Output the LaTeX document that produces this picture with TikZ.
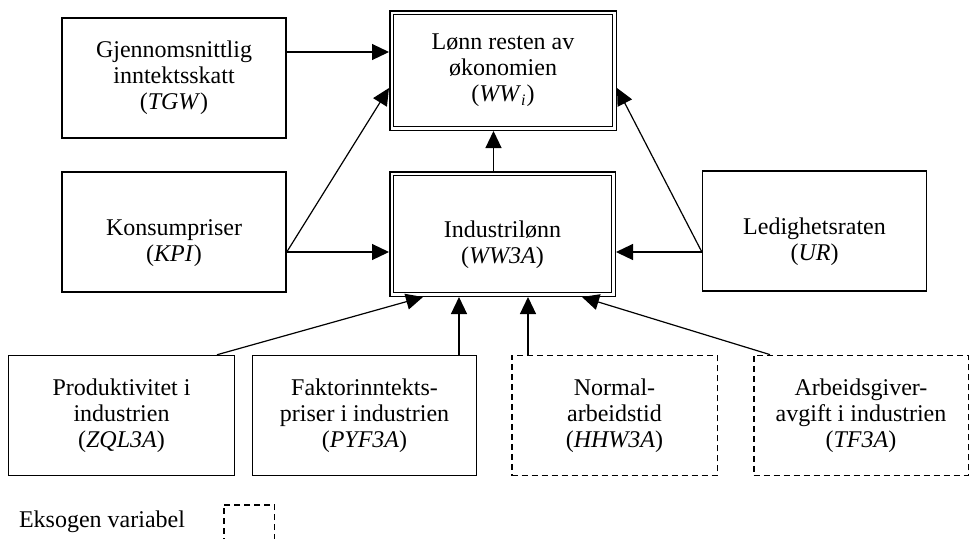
\documentclass[tikz,border=0pt]{standalone}
\usepackage{fontspec}
\setmainfont{Liberation Serif}
\usetikzlibrary{arrows.meta}
\usetikzlibrary{calc}

% extra room above the first line of the two-line boxes
\newcommand{\topgap}{\rule{0pt}{19pt}}

\begin{document}
\begin{tikzpicture}[x=0.5pt, y=-0.5pt,
        box/.style={draw, line width=0.75pt, align=center, inner sep=0pt,
                font=\fontsize{12}{13}\selectfont,
                minimum width=112pt, minimum height=60pt},
        exobox/.style={box, line width=0.9pt, dash pattern=on 3pt off 2pt},
        mainbox/.style={box, double, line width=0.75pt, double distance=1.1pt,
                outer sep=1.3pt},
        arr/.style={-{Triangle[length=8.5pt, width=8pt]}, line width=0.6pt}]

        \useasboundingbox (0,0) rectangle (975,538);

        % top and middle rows
        \node [box] (TGW) at (174, 78) {Gjennomsnittlig\\ inntektsskatt\\ (\textit{TGW})};
        \node [mainbox, minimum width=111.4pt, minimum height=57.9pt] (WWi) at (503, 70.5)
                {Lønn resten av\\ økonomien\\ (\textit{WW}\textsubscript{\textit{i}})};
        \node [box] (KPI) at (174, 232) {\topgap Konsumpriser\\ (\textit{KPI})};
        \node [mainbox, minimum width=110.9pt, minimum height=60.4pt] (WW3A) at (502.5, 234)
                {\topgap Industrilønn\\ (\textit{WW3A})};
        \node [box, minimum width=111.9pt] (UR) at (814.5, 231) {\topgap Ledighetsraten\\ (\textit{UR})};

        % bottom row
        \node [box, minimum width=112.9pt] (ZQL3A) at (121.5, 415.5)
                {Produktivitet i\\ industrien\\ (\textit{ZQL3A})};
        \node [box, minimum width=111.9pt] (PYF3A) at (364.5, 415.5)
                {Faktorinntekts-\\ priser i industrien\\ (\textit{PYF3A})};
        \node [exobox, minimum width=102.9pt] (HHW3A) at (614.5, 415.5)
                {Normal-\\ arbeidstid\\ (\textit{HHW3A})};
        \node [exobox, minimum width=107.4pt] (TF3A) at (861, 415.5)
                {Arbeidsgiver-\\ avgift i industrien\\ (\textit{TF3A})};

        % legend
        \node [anchor=base west, font=\fontsize{12}{13}\selectfont] (legtext) at (12, 527)
                {Eksogen variabel};
        \node [exobox, minimum width=25.4pt, minimum height=27.4pt] (legbox) at (249, 532) {};

        % connectors
        \draw[arr] ([yshift=13pt]TGW.east) -- ([yshift=13pt]TGW.east -| WWi.west);
        \draw[arr] ([yshift=-10pt]KPI.east) -- ([yshift=-8.75pt]WWi.west);
        \draw[arr] ([yshift=-10pt]KPI.east) -- ([yshift=-10pt]KPI.east -| WW3A.west);
        \draw[arr] ([yshift=-10.5pt]UR.west) -- ([yshift=-10.5pt]UR.west -| WW3A.east);
        \draw[arr] ([yshift=-10.5pt]UR.west) -- ([yshift=-8.75pt]WWi.east);
        \draw[arr] ([xshift=-4.5pt]WW3A.north) -- ([xshift=-4.5pt]WW3A.north |- WWi.south);

        \draw[arr] ([xshift=47.75pt]ZQL3A.north) -- ([xshift=-39.75pt]WW3A.south);
        \draw[arr] ([xshift=47.25pt]PYF3A.north) -- ([xshift=47.25pt]PYF3A.north |- WW3A.south);
        \draw[arr] ([xshift=-43.25pt]HHW3A.north) -- ([xshift=-43.25pt]HHW3A.north |- WW3A.south);
        \draw[arr] ([xshift=-45.5pt]TF3A.north) -- ([xshift=39.75pt]WW3A.south);

\end{tikzpicture}
\end{document}
